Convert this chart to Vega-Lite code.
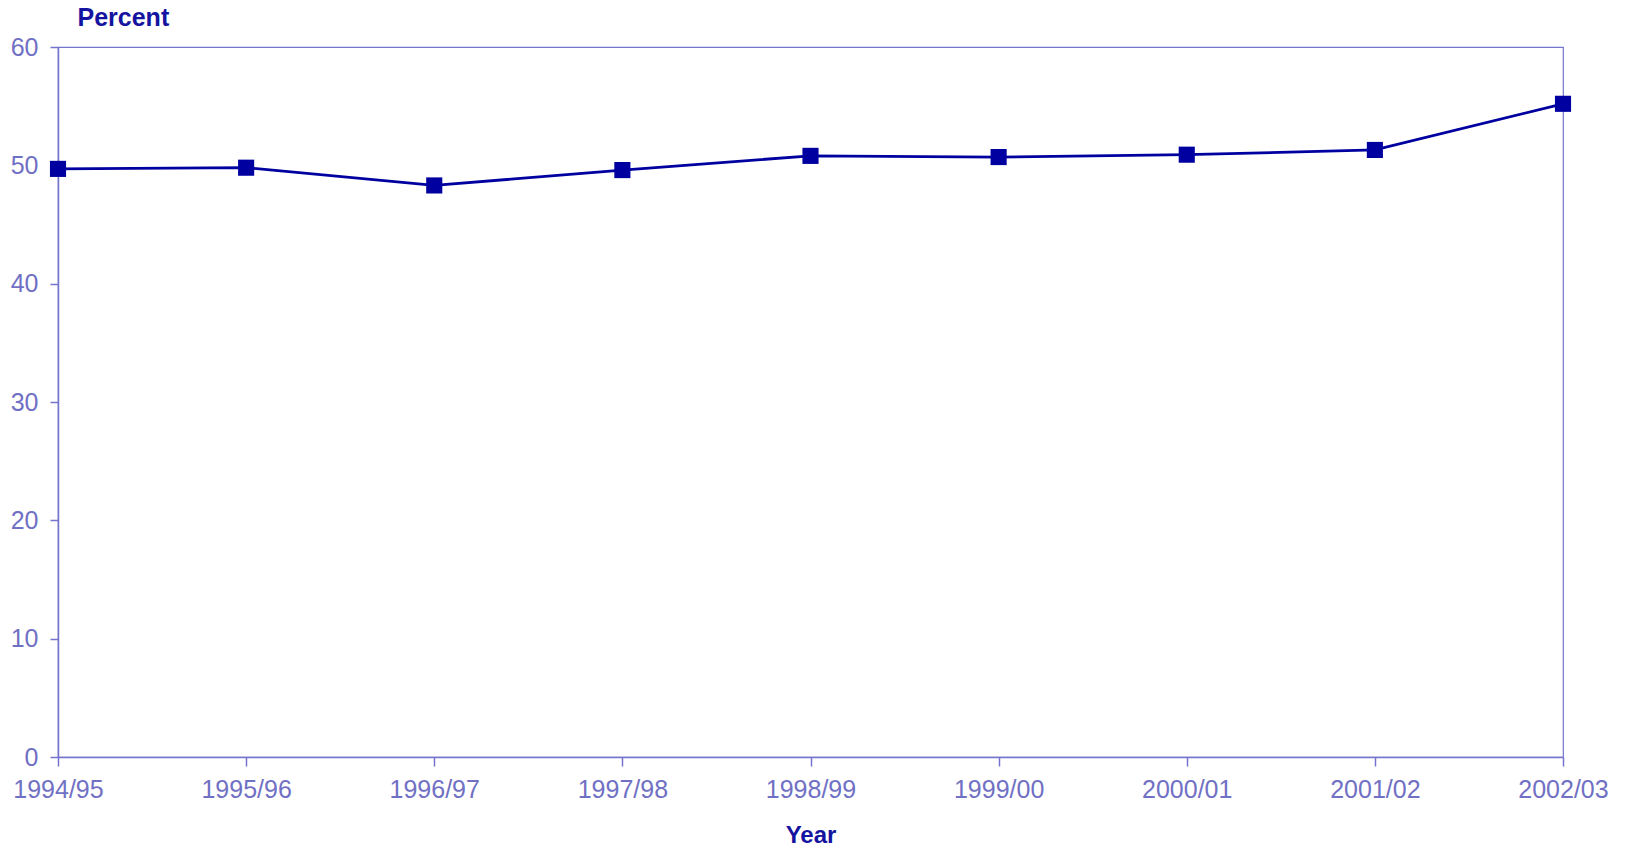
{
  "$schema": "https://vega.github.io/schema/vega-lite/v6.json",
  "width": 1505,
  "height": 710,
  "autosize": {"type": "none"},
  "padding": {"left": 58, "top": 47, "right": 64, "bottom": 91},
  "background": "white",
  "config": {
    "view": {"stroke": "#7474cc", "strokeWidth": 1.2},
    "font": "Liberation Sans"
  },
  "data": {
    "values": [
      {"year": "1994/95", "percent": 49.7},
      {"year": "1995/96", "percent": 49.8},
      {"year": "1996/97", "percent": 48.3},
      {"year": "1997/98", "percent": 49.6},
      {"year": "1998/99", "percent": 50.8},
      {"year": "1999/00", "percent": 50.7},
      {"year": "2000/01", "percent": 50.9},
      {"year": "2001/02", "percent": 51.3},
      {"year": "2002/03", "percent": 55.2}
    ]
  },
  "mark": {"type": "line", "color": "#0000a0", "strokeWidth": 2.8, "point": {"shape": "square", "size": 260, "color": "#0000a0", "filled": true, "opacity": 1}},
  "encoding": {
    "x": {
      "field": "year", "type": "ordinal", "sort": null,
      "scale": {"type": "point", "padding": 0},
      "axis": {
        "title": "Year", "titleFont": "Liberation Sans", "titleFontSize": 24, "titleFontWeight": "bold", "titleColor": "#1414a0",
        "titleBaseline": "alphabetic", "titleY": 85, "titleAnchor": "middle",
        "labelAngle": 0, "labelFontSize": 25, "labelColor": "#7070c4", "labelFont": "Liberation Sans",
        "labelBaseline": "alphabetic", "labelPadding": 31, "labelFlush": false, "labelOverlap": false,
        "domainColor": "#7474cc", "domainWidth": 1.5, "tickColor": "#7474cc", "tickSize": 9, "tickWidth": 1.5, "grid": false
      }
    },
    "y": {
      "field": "percent", "type": "quantitative",
      "scale": {"domain": [0, 60], "nice": false, "zero": true},
      "axis": {
        "values": [0, 10, 20, 30, 40, 50, 60],
        "title": "Percent", "titleFont": "Liberation Sans", "titleFontSize": 25, "titleFontWeight": "bold", "titleColor": "#1414a0",
        "titleAngle": 0, "titleAlign": "left", "titleBaseline": "alphabetic", "titleX": 19, "titleY": -22,
        "labelFontSize": 25, "labelColor": "#7070c4", "labelFont": "Liberation Sans", "labelPadding": 12, "labelBaseline": "middle",
        "domainColor": "#7474cc", "domainWidth": 1.5, "tickColor": "#7474cc", "tickSize": 8, "tickWidth": 1.5, "grid": false
      }
    }
  }
}
